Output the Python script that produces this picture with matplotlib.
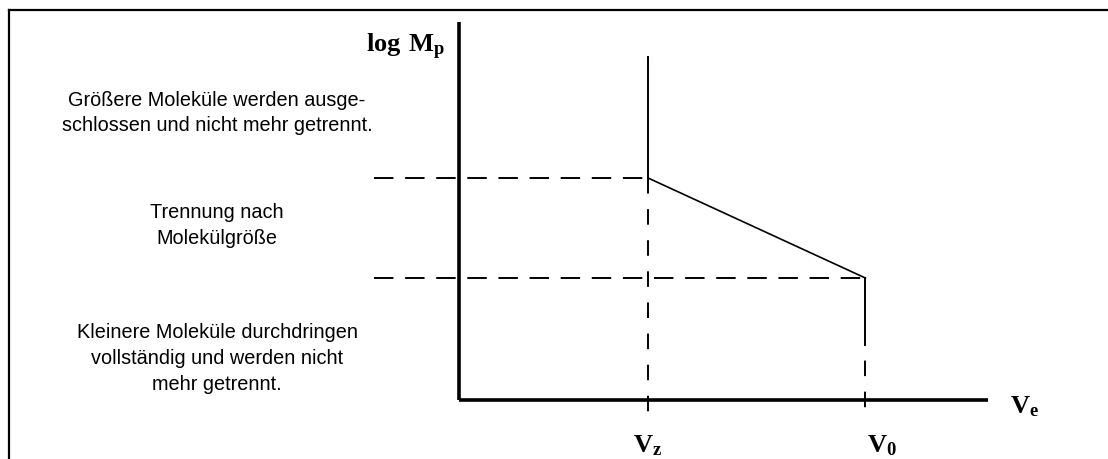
import matplotlib
matplotlib.use("Agg")
import matplotlib.pyplot as plt
from matplotlib.lines import Line2D

plt.rcParams['font.family'] = ['Liberation Sans', 'DejaVu Sans']
plt.rcParams['mathtext.fontset'] = 'custom'
plt.rcParams['mathtext.rm'] = 'Liberation Serif'
plt.rcParams['mathtext.bf'] = 'Liberation Serif:bold'

# schematic values (arbitrary units)
ve_names = [r'$\mathbf{V_z}$', r'$\mathbf{V_0}$']
ve_values = [1.0, 2.15]            # exclusion volume, total permeation volume
logm_levels = [1.82, 1.0]          # exclusion limit, permeation limit
calib_x = [1.0, 2.15]
calib_y = [1.82, 1.0]
x_axis_end = 2.8
y_axis_end = 3.10
vz_top = 2.81
v0_solid_end = 0.45

region_texts = [
    "Größere Moleküle werden ausge-\nschlossen und nicht mehr getrennt.",
    "Trennung nach\nMolekülgröße",
    "Kleinere Moleküle durchdringen\nvollständig und werden nicht\nmehr getrennt.",
]
region_y = [2.36, 1.44, 0.35]

W, H = 1108, 460
fig = plt.figure(figsize=(W / 100, H / 100), dpi=100)
ax = fig.add_axes([0, 0, 1, 1])
ax.axis('off')

# pixel mapping: origin at (459, 401), 189 px per x-unit, 122 px per y-unit
x0, y0, sx, sy = 459, 401, 189, 122
ax.set_xlim(-x0 / sx, (W - x0) / sx)
ax.set_ylim(-(H - y0) / sy, y0 / sy)

k = 'black'
hdash = (0, (10, 6))
vdash = (0, (8, 8))

# axes
ax.plot([0, 0], [0, y_axis_end], color=k, lw=2.6, solid_capstyle='butt')
ax.plot([0, x_axis_end], [0, 0], color=k, lw=2.6, solid_capstyle='butt')

# V_z vertical
ax.plot([ve_values[0]] * 2, [vz_top, logm_levels[0]], color=k, lw=1.4)
ax.plot([ve_values[0]] * 2, [logm_levels[0], -0.123], color=k, lw=1.4, linestyle=vdash)
# V_0 vertical
ax.plot([ve_values[1]] * 2, [logm_levels[1], v0_solid_end], color=k, lw=1.4)
ax.plot([ve_values[1]] * 2, [v0_solid_end, -0.123], color=k, lw=1.4, linestyle=(8, (8, 8)))

# horizontal dashed levels
ax.plot([-0.45, ve_values[0]], [logm_levels[0]] * 2, color=k, lw=1.4, linestyle=hdash)
ax.plot([-0.45, ve_values[1]], [logm_levels[1]] * 2, color=k, lw=1.4, linestyle=hdash)

# calibration line
ax.plot(calib_x, calib_y, color=k, lw=1.2)

# labels
ax.text(-0.074, 2.86, r'$\mathbf{log\ M_p}$', fontsize=19, ha='right', va='baseline')
ax.text(2.915, -0.098, r'$\mathbf{V_e}$', fontsize=19, ha='left', va='baseline')
ax.text(ve_values[0], -0.418, ve_names[0], fontsize=19, ha='center', va='baseline')
ax.text(ve_values[1] + 0.01, -0.418, ve_names[1], fontsize=19, ha='left', va='baseline')

for txt, yy in zip(region_texts, region_y):
    ax.text(-1.28, yy, txt, fontsize=14.3, ha='center', va='center', linespacing=1.45)

# frame (top and left edges)
fig.add_artist(Line2D([9 / W, 1], [1 - 11 / H] * 2, color=k, lw=1.6, transform=fig.transFigure))
fig.add_artist(Line2D([9 / W] * 2, [1 - 11 / H, 0], color=k, lw=1.6, transform=fig.transFigure))

fig.savefig("out.png", dpi=100, facecolor="white")
